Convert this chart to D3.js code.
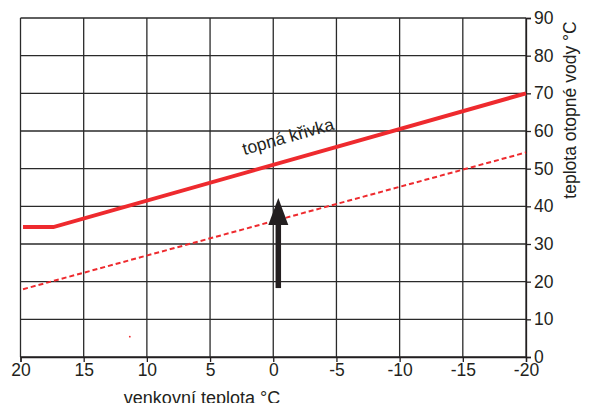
<!DOCTYPE html>
<html>
<head>
<meta charset="utf-8">
<script src="https://cdn.jsdelivr.net/npm/d3@7"></script>
<style>
  html, body { margin: 0; padding: 0; background: #fff; }
  svg { display: block; font-family: "Liberation Sans", Arial, sans-serif; }
</style>
</head>
<body>
<svg id="chart" width="594" height="403"></svg>
<script>
// ---- data ----
const xTicks = [20, 15, 10, 5, 0, -5, -10, -15, -20];
const xTickLabels = ["20", "15", "10", "5", "0", "-5", "-10", "-15", "-20"];
const yTicks = [0, 10, 20, 30, 40, 50, 60, 70, 80, 90];
const yTickLabels = ["0", "10", "20", "30", "40", "50", "60", "70", "80", "90"];

const curveX = [19.8, 17.4, -20];        // topná křivka (solid)
const curveY = [34.5, 34.5, 70];
const shiftedX = [19.8, -20];            // shifted curve (dashed)
const shiftedY = [18, 54.3];
const arrowX = [-0.4, -0.4];             // arrow from -> to
const arrowY = [18.3, 42.2];
const strayX = [11.35];
const strayY = [5.4];

const curveLabel = "topná křivka";
const curveLabelPos = [-1.3, 57.0];
const xTitle = "venkovní teplota °C";
const yTitle = "teplota otopné vody °C";

// ---- layout ----
const svg = d3.select("#chart");
const x = d3.scaleLinear().domain([20, -20]).range([20.5, 526]);
const y = d3.scaleLinear().domain([0, 90]).range([357, 18]);
const ink = "#231f20";
const red = "#ee2a2e";

// grid
const g = svg.append("g");
g.selectAll("line.v").data(xTicks).join("line")
  .attr("x1", d => x(d)).attr("x2", d => x(d))
  .attr("y1", y(0)).attr("y2", y(90))
  .attr("stroke", "#2a2a2a").attr("stroke-width", 1.3);
g.selectAll("line.h").data(yTicks).join("line")
  .attr("x1", x(20)).attr("x2", x(-20))
  .attr("y1", d => y(d)).attr("y2", d => y(d))
  .attr("stroke", "#2a2a2a").attr("stroke-width", 1.3);

// axes
const fontSize = 17.5;
const bottomAxis = d3.axisBottom(x).tickValues(xTicks)
  .tickFormat((d, i) => xTickLabels[i]).tickSize(5).tickPadding(3);
const rightAxis = d3.axisRight(y).tickValues(yTicks)
  .tickFormat((d, i) => yTickLabels[i]).tickSize(5).tickPadding(3);

const ax = svg.append("g").attr("transform", `translate(0,${y(0)})`).call(bottomAxis);
const ay = svg.append("g").attr("transform", `translate(${x(-20)},0)`).call(rightAxis);
[ax, ay].forEach(a => {
  a.select(".domain").attr("stroke", ink).attr("stroke-width", 1.3);
  a.selectAll(".tick line").attr("stroke", ink).attr("stroke-width", 1.3);
  a.selectAll(".tick text").attr("fill", ink).style("font-size", fontSize + "px")
    .style("font-family", '"Liberation Sans", Arial, sans-serif');
});
ax.selectAll(".tick text").attr("dy", "0.71em").attr("y", 6.5);

// lines
const line = d3.line().x(d => x(d[0])).y(d => y(d[1]));
svg.append("path")
  .datum(shiftedX.map((v, i) => [v, shiftedY[i]]))
  .attr("d", line).attr("fill", "none")
  .attr("stroke", red).attr("stroke-width", 2).attr("stroke-dasharray", "5,3");
svg.append("path")
  .datum(curveX.map((v, i) => [v, curveY[i]]))
  .attr("d", line).attr("fill", "none")
  .attr("stroke", red).attr("stroke-width", 4).attr("stroke-linejoin", "miter");

// stray dot
svg.selectAll("circle.stray").data(strayX.map((v, i) => [v, strayY[i]])).join("circle")
  .attr("cx", d => x(d[0])).attr("cy", d => y(d[1])).attr("r", 0.9).attr("fill", red);

// arrow
const ax0 = x(arrowX[0]), ay0 = y(arrowY[0]);
const ax1 = x(arrowX[1]), ay1 = y(arrowY[1]);
const headLen = 27, headHalf = 10;
svg.append("line")
  .attr("x1", ax0).attr("y1", ay0).attr("x2", ax1).attr("y2", ay1 + headLen - 2)
  .attr("stroke", ink).attr("stroke-width", 5.5);
svg.append("path")
  .attr("d", `M${ax1},${ay1} L${ax1 + headHalf},${ay1 + headLen} L${ax1 - headHalf},${ay1 + headLen} Z`)
  .attr("fill", ink);

// curve label
const ang = -Math.atan((y(curveY[1]) - y(curveY[2])) / (x(curveX[2]) - x(curveX[1]))) * 180 / Math.PI;
svg.append("text")
  .attr("transform", `translate(${x(curveLabelPos[0])},${y(curveLabelPos[1])}) rotate(${ang})`)
  .attr("text-anchor", "middle").attr("fill", ink)
  .style("font-size", "17.5px").text(curveLabel);

// titles
svg.append("text")
  .attr("x", 202).attr("y", 404).attr("text-anchor", "middle")
  .attr("fill", ink).style("font-size", "18px").text(xTitle);
svg.append("text")
  .attr("transform", `translate(576,110) rotate(-90)`)
  .attr("text-anchor", "middle").attr("fill", ink)
  .style("font-size", "17.5px").text(yTitle);
</script>
</body>
</html>
